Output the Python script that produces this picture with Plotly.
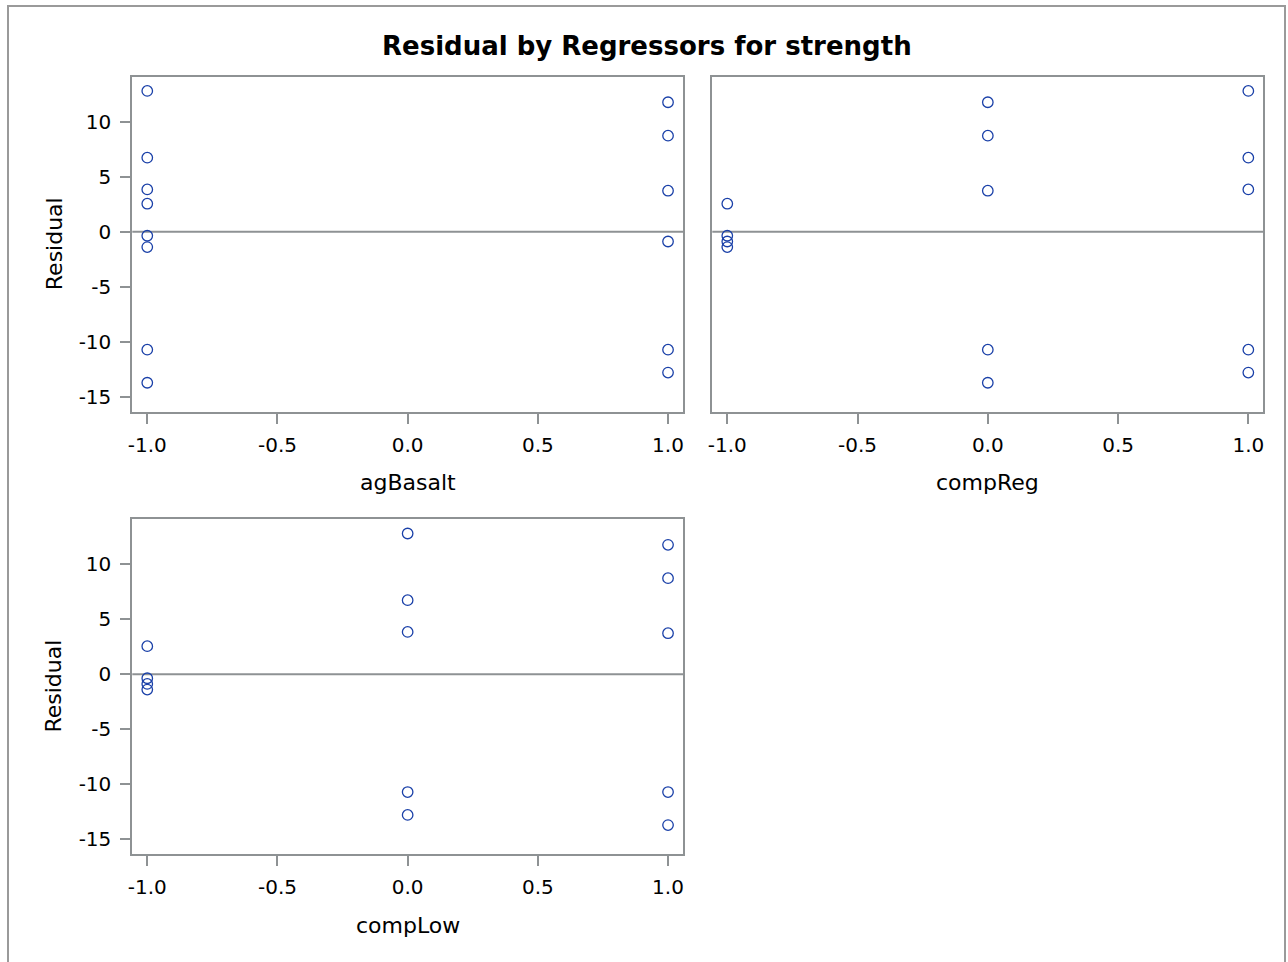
import plotly.graph_objects as go

# ---- data (one entry per observation) ----
agBasalt = [-1, -1, -1, -1, -1, -1, -1, -1, 1, 1, 1, 1, 1, 1]
compReg  = [1, 1, 1, -1, -1, -1, 1, 0, 0, 0, 0, -1, 0, 1]
compLow  = [0, 0, 0, -1, -1, -1, 0, 1, 1, 1, 1, -1, 1, 0]
residual = [12.79, 6.73, 3.85, 2.55, -0.36, -1.39, -10.7, -13.7,
            11.76, 8.73, 3.73, -0.88, -10.7, -12.78]

x_ticks = [-1.0, -0.5, 0.0, 0.5, 1.0]
x_tick_labels = ["-1.0", "-0.5", "0.0", "0.5", "1.0"]
y_ticks = [-15, -10, -5, 0, 5, 10]
y_tick_labels = ["-15", "-10", "-5", "0", "5", "10"]
title_text = "Residual by Regressors for strength"

W, H = 1288, 962
FONT = "DejaVu Sans"
GRAY = "#8e9294"
MARK = "#1a40a8"

def px(x):
    return x / W

def py(y):
    return 1 - y / H

fig = go.Figure()

panels = [
    ("x", "y", agBasalt, "agBasalt"),
    ("x2", "y2", compReg, "compReg"),
    ("x3", "y3", compLow, "compLow"),
]
for xa, ya, xs, name in panels:
    fig.add_trace(go.Scatter(
        x=xs, y=residual, xaxis=xa, yaxis=ya, mode="markers",
        marker=dict(symbol="circle-open", size=10.5, color=MARK,
                    line=dict(width=1.3, color=MARK)),
        showlegend=False, hoverinfo="x+y"))

dom_top = [py(411.7), py(76.7)]
dom_bot = [py(854.0), py(519.3)]
dx1 = [px(132.3), px(683.0)]
dx2 = [px(712.3), px(1263.3)]

xr = [-1.0575, 1.0575]
yr = [-16.33, 14.08]

common_x = dict(range=xr, tickvals=x_ticks, ticktext=x_tick_labels, showgrid=False,
                zeroline=False, showline=True, linecolor=GRAY, linewidth=2,
                mirror=True, ticks="outside", ticklen=10, tickwidth=2,
                tickcolor=GRAY, automargin=False, ticklabelstandoff=4,
                tickfont=dict(family=FONT, size=20, color="#000"))
common_y = dict(range=yr, tickvals=y_ticks, ticktext=y_tick_labels, showgrid=False,
                zeroline=False, showline=True, linecolor=GRAY, linewidth=2, mirror=True,
                ticks="outside", ticklen=10, tickwidth=2, tickcolor=GRAY,
                automargin=False, ticklabelstandoff=5,
                tickfont=dict(family=FONT, size=20, color="#000"))

fig.update_layout(
    width=W, height=H, autosize=False,
    margin=dict(l=0, r=0, t=0, b=0, pad=0),
    paper_bgcolor="white", plot_bgcolor="white",
    xaxis=dict(domain=dx1, anchor="y", **common_x),
    yaxis=dict(domain=dom_top, anchor="x", **common_y),
    xaxis2=dict(domain=dx2, anchor="y2", **common_x),
    yaxis2=dict(domain=dom_top, anchor="x2", **{**common_y, "showticklabels": False, "ticks": ""}),
    xaxis3=dict(domain=dx1, anchor="y3", **common_x),
    yaxis3=dict(domain=dom_bot, anchor="x3", **common_y),
)

# zero reference lines
for xa, ya in [("x", "y"), ("x2", "y2"), ("x3", "y3")]:
    fig.add_shape(type="line", xref=f"{xa} domain", yref=ya, x0=0, x1=1, y0=0, y1=0,
                  line=dict(color=GRAY, width=2), layer="below")

# outer border
fig.add_shape(type="rect", xref="paper", yref="paper",
              x0=px(8), x1=px(1285), y0=-0.05, y1=py(6),
              line=dict(color="#9a9a9a", width=2), fillcolor="rgba(0,0,0,0)")

ann = []
ann.append(dict(text=f"<b>{title_text}</b>", x=px(647), y=py(46), xref="paper", yref="paper",
                showarrow=False, font=dict(family=FONT, size=26, color="#000"),
                xanchor="center", yanchor="middle"))
for name, cx, cy in [("agBasalt", 407.6, 482), ("compReg", 987.8, 482), ("compLow", 407.6, 925)]:
    ann.append(dict(text=name, x=px(cx), y=py(cy), xref="paper", yref="paper",
                    showarrow=False, font=dict(family=FONT, size=22, color="#000"),
                    xanchor="center", yanchor="middle"))
for cy in [244.2, 686.6]:
    ann.append(dict(text="Residual", x=px(54), y=py(cy), xref="paper", yref="paper",
                    showarrow=False, textangle=-90, font=dict(family=FONT, size=22, color="#000"),
                    xanchor="center", yanchor="middle"))
fig.update_layout(annotations=ann)

fig.write_html("out.html")
